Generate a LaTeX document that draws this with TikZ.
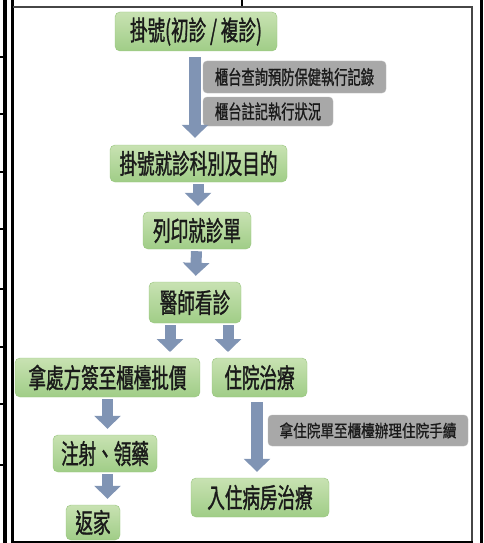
\documentclass[tikz,border=0pt]{standalone}
\usepackage{fontspec}
\usetikzlibrary{arrows.meta}
\newfontfamily\cjk[FakeStretch=0.65,FakeBold=1.2]{Noto Sans CJK TC}
\newfontfamily\cjknote[FakeStretch=0.68,FakeBold=1]{Noto Sans CJK TC}
\newfontfamily\cjkwide[FakeStretch=0.8,FakeBold=1]{Noto Sans CJK TC}
\definecolor{greentop}{RGB}{200,226,178}
\definecolor{greenbot}{RGB}{160,205,135}
\definecolor{greenline}{RGB}{150,196,124}
\definecolor{notegray}{RGB}{168,168,168}
\definecolor{arrowblue}{RGB}{128,148,180}
\definecolor{textdark}{RGB}{26,26,26}
\definecolor{framegray}{RGB}{70,70,70}

\begin{document}
\begin{tikzpicture}[x=1pt, y=-1pt,
    stepbox/.style={rounded corners=5pt, draw=greenline, top color=greentop, bottom color=greenbot,
      text=textdark, font=\cjk\fontsize{27}{27}\selectfont, inner sep=0pt},
    notebox/.style={rounded corners=4pt, fill=notegray, draw=notegray!80!white,
      text=textdark, font=\cjknote\fontsize{19.5}{19.5}\selectfont, inner sep=0pt},
    flow/.style={line width=11pt, draw=arrowblue, -{Triangle[width=26pt,length=13pt]},
      shorten <=2pt, shorten >=6pt}]
    \useasboundingbox (0,0) rectangle (483,543);

    \draw 
    (196,31.5) node[stepbox, minimum width=162pt, minimum height=39pt](reg){掛號(初診 / 複診)}
    (294.5,77) node[notebox, minimum width=183pt, minimum height=32pt](check){櫃台查詢預防保健執行記錄}
    (268,111.5) node[notebox, minimum width=130pt, minimum height=29pt](mark){櫃台註記執行狀況}
    (198.5,163.5) node[stepbox, minimum width=177pt, minimum height=37pt](dept){掛號就診科別及目的}
    (197,230.5) node[stepbox, minimum width=108pt, minimum height=37pt](print){列印就診單}
    (195,302.5) node[stepbox, minimum width=92pt, minimum height=41pt](doc){醫師看診}
    (107.5,377.5) node[stepbox, minimum width=185pt, minimum height=39pt](rx){拿處方簽至櫃檯批價}
    (259.5,377.5) node[stepbox, minimum width=95pt, minimum height=39pt](adm){住院治療}
    (105,453.5) node[stepbox, minimum width=104pt, minimum height=37pt](inj){注射、領藥}
    (93,522.5) node[stepbox, minimum width=54pt, minimum height=35pt](home){返家}
    (368,430.5) node[notebox, minimum width=200pt, minimum height=31pt,
      font=\cjkwide\fontsize{17}{17}\selectfont](form){拿住院單至櫃檯辦理住院手續}
    (260,497.5) node[stepbox, minimum width=138pt, minimum height=39pt](ward){入住病房治療};

    \coordinate (splitL) at (170,352);
    \coordinate (splitR) at (228,352);

    \draw[flow, line width=12pt, shorten <=6pt, shorten >=7pt] (reg.south -| 195,0) -- (dept.north -| 195,0);
    \draw[flow] (dept.south -| 198,0) -- (print.north -| 198,0);
    \draw[flow] (print) -- (doc);
    \draw[flow, shorten >=0pt] (splitL |- doc.south) -- (splitL);
    \draw[flow, shorten >=0pt] (splitR |- doc.south) -- (splitR);
    \draw[flow] (rx.south) -- (rx.south |- inj.north);
    \draw[flow] (inj.south -| rx.south) -- (rx.south |- home.north);
    \draw[flow, line width=12pt, shorten <=5pt] (adm.south -| 257,0) -- (ward.north -| 257,0);

    \draw[line width=4pt] (5,0) -- (5,543);
    \draw[line width=3pt] (12.5,0) -- (12.5,543);
    \draw[line width=3pt] (481.5,0) -- (481.5,543);
    \foreach \y in {57,114,172,229,289,347,404,465}
      \draw[line width=2.5pt] (0,\y) -- (5,\y);
    \draw[line width=2pt] (242,0) -- (242,7);
    \draw[line width=2pt] (242,541) -- (242,543);
    \draw[line width=1.5pt, draw=framegray] (13,7) -- (472,7) -- (472,541);
    \draw[line width=2pt] (13,541.5) -- (473,541.5);

  \end{tikzpicture}
\end{document}
